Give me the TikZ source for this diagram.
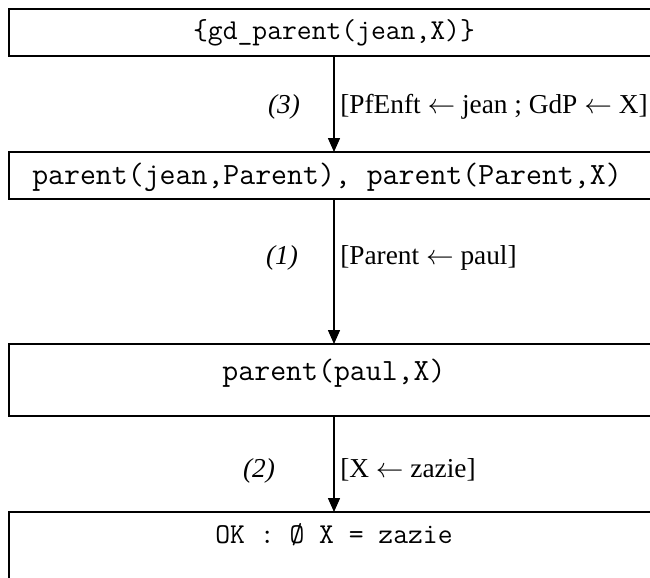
\documentclass[tikz,border=0pt]{standalone}
\usepackage{fontspec}
\setmainfont{Liberation Serif}
\usetikzlibrary{arrows.meta,positioning}

\begin{document}
\begin{tikzpicture}[
  x=0.75pt,y=-0.75pt,
  goal/.style ={draw,line width=1.3pt,anchor=north west,minimum width=495.75pt,
                inner sep=0pt,outer sep=0pt},
  code/.style ={font=\fontsize{21.6pt}{23pt}\ttfamily,inner sep=0pt},
  bigcode/.style ={font=\fontsize{23.2pt}{25pt}\ttfamily,inner sep=0pt},
  rule/.style ={font=\fontsize{20.5pt}{22pt}\itshape,inner sep=0pt,anchor=base},
  subst/.style={font=\fontsize{20.5pt}{22pt}\selectfont,inner sep=0pt,anchor=base west},
  >={Triangle[length=10.5pt,width=9pt]}]

\clip (0,0) rectangle (650,578);

% ---------- goal boxes ----------
\node[goal,minimum height=35.25pt] (g1) at (9,9) {};
\node[goal,minimum height=35.25pt] (g2) at (9,152) {};
\node[goal,minimum height=54pt]    (g3) at (9,344) {};
\node[goal,minimum height=60pt]    (g4) at (9,512) {};

\node[code,anchor=base]         (t1) at (334,40)  {\{gd\_parent(jean,X)\}};
\node[bigcode,anchor=base west] (t2) at (32,184)  {parent(jean,Parent), parent(Parent,X)};
\node[bigcode,anchor=base]      (t3) at (334,380) {parent(paul,X)};
\node[code,anchor=base]         (t4) at (334,543) {OK : Ø X = zazie};

% ---------- resolution steps ----------
\coordinate (ax) at (334,0);
\draw[->,line width=1.1pt] (g1.south -| ax) -- (g2.north -| ax);
\draw[->,line width=1.1pt] (g2.south -| ax) -- (g3.north -| ax);
\draw[->,line width=1.1pt] (g3.south -| ax) -- (g4.north -| ax);

\node[rule]  (r3) at (284,113) {(3)};
\node[subst] (s3) at (340,113) {[PfEnft $\leftarrow$ jean ; GdP $\leftarrow$ X]};
\node[rule]  (r1) at (282,264) {(1)};
\node[subst] (s1) at (340,264) {[Parent $\leftarrow$ paul]};
\node[rule]  (r2) at (259,477) {(2)};
\node[subst] (s2) at (340,477) {[X $\leftarrow$ zazie]};

\end{tikzpicture}
\end{document}
